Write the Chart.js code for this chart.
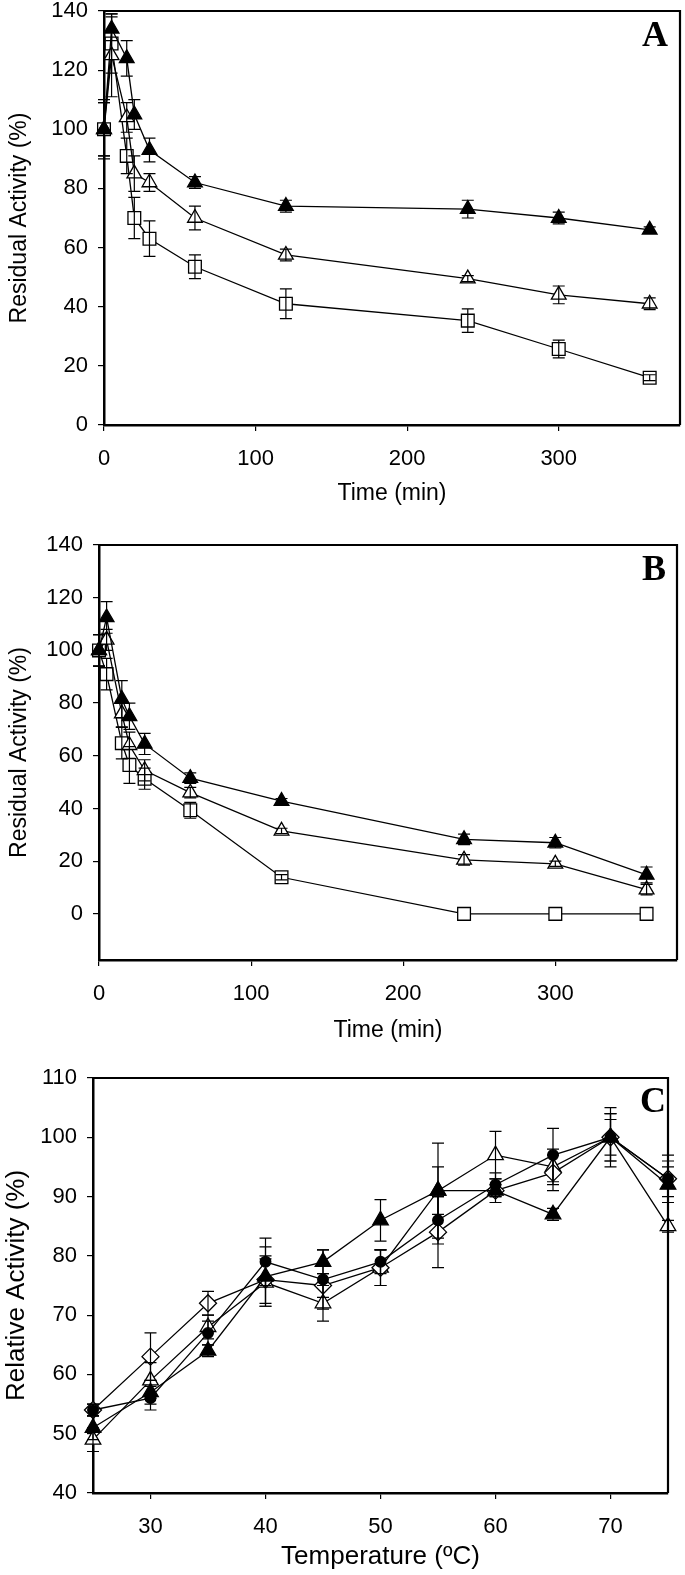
<!DOCTYPE html>
<html><head><meta charset="utf-8">
<script src="https://cdn.jsdelivr.net/npm/chart.js@4"></script>
<style>
html,body{margin:0;padding:0;background:#fff;}
#wrap{position:relative;width:685px;height:1575px;background:#fff;}
canvas{position:absolute;left:0;}
</style></head><body>
<div id="wrap">
<canvas id="cA" width="685" height="515" style="top:0px"></canvas>
<canvas id="cB" width="685" height="530" style="top:515px"></canvas>
<canvas id="cC" width="685" height="530" style="top:1045px"></canvas>
</div>
<script>
// ---------- DATA ----------
const timeMin = [0, 5, 15, 20, 30, 60, 120, 240, 300, 360];
const timeTicks = [0, 100, 200, 300];
const residualTicks = [0, 20, 40, 60, 80, 100, 120, 140];

// Panel A
const aFilledTri    = [100, 134, 124, 105, 93, 82, 74, 73, 70, 66];
const aFilledTriErr = [9, 4, 6, 5, 4, 2, 2, 3, 2, 1];
const aOpenTri      = [100, 125, 104, 85, 82, 70, 57.5, 49.5, 44, 41];
const aOpenTriErr   = [10, 14, 5, 6, 3, 4, 2, 1, 3, 2];
const aSquare       = [100, 129, 91, 70, 63, 53.5, 41, 35.3, 25.7, 16];
const aSquareErr    = [9, 10, 6, 7, 6, 4, 5, 4, 3, 1];

// Panel B
const bFilledTri    = [100, 112.5, 81.5, 75, 64.5, 51.5, 42.8, 28.3, 27, 14.8];
const bFilledTriErr = [6, 6, 7, 5, 4, 2, 1, 2, 2, 3];
const bOpenTri      = [100, 104, 76, 64, 54.5, 46, 31.5, 20.5, 19, 9.2];
const bOpenTriErr   = [6, 4, 5, 5, 4, 2, 1, 2, 1, 2];
const bSquare       = [100, 91, 64.8, 56.5, 51.3, 39.3, 13.9, 0, 0, 0];
const bSquareErr    = [6, 6, 6, 7, 4, 3, 1, 0, 0, 0];

// Panel C
const tempC = [25, 30, 35, 40, 45, 50, 55, 60, 65, 70, 75];
const tempTicks = [30, 40, 50, 60, 70];
const relativeTicks = [40, 50, 60, 70, 80, 90, 100, 110];
const cDiamond       = [54, 63, 72, 76, 75, 78, 84, 91, 94, 100, 93];
const cDiamondErr    = [1, 4, 2, 4, 2, 3, 6, 2, 3, 5, 3];
const cCircle        = [54, 56, 67, 79, 76, 79, 86, 92, 97, 100, 93];
const cCircleErr     = [1, 2, 2, 4, 5, 2, 4, 2, 4.5, 3, 4];
const cFilledTri     = [51, 57, 64, 76.5, 79, 86, 91, 91, 87, 100, 92];
const cFilledTriErr  = [2, 2, 1, 5, 2, 3.5, 8, 1, 1, 4, 3];
const cOpenTri       = [49, 59, 68, 75.5, 72, 78, 91, 97, 95, 100, 85];
const cOpenTriErr    = [2, 3, 2, 4, 3, 3, 4, 4, 3, 4, 1];

const panelLetters = ['A', 'B', 'C'];
const titleResidual = 'Residual Activity (%)';
const titleRelative = 'Relative Activity (%)';
const titleTime = 'Time (min)';
const titleTemp = 'Temperature (ºC)';

// ---------- STYLE / HELPERS ----------
Chart.defaults.font.family = '"Liberation Sans", Arial, sans-serif';
Chart.defaults.color = '#000';

// pins the plot area to the reference position after Chart.js has laid out the boxes
const pinAreaPlugin = {
  id: 'pinArea',
  afterLayout(chart) {
    const w = chart.options.plugins.pinArea.area;
    const a = chart.chartArea;
    a.left = w.left; a.top = w.top; a.right = w.right; a.bottom = w.bottom;
    a.width = w.right - w.left; a.height = w.bottom - w.top;
    const xs = chart.scales.x, ys = chart.scales.y;
    xs.left = a.left; xs.right = a.right; xs.width = a.width;
    xs.top = a.bottom; xs.height = xs.bottom - xs.top;
    ys.top = a.top; ys.bottom = a.bottom; ys.height = a.height;
    ys.right = a.left; ys.width = ys.right - ys.left;
    (xs.configure || xs._configure).call(xs);
    (ys.configure || ys._configure).call(ys);
  }
};

const errorBarPlugin = {
  id: 'errorBars',
  afterDatasetsDraw(chart) {
    const ctx = chart.ctx;
    const xs = chart.scales.x, ys = chart.scales.y;
    const cap = chart.options.plugins.errorBars.cap;
    ctx.save();
    ctx.strokeStyle = '#000';
    ctx.lineWidth = 1.2;
    chart.data.datasets.forEach(ds => {
      if (!ds.errors) return;
      ds.data.forEach((p, i) => {
        const e = ds.errors[i];
        if (!e) return;
        const x = xs.getPixelForValue(p.x);
        const y1 = ys.getPixelForValue(p.y - e);
        const y2 = ys.getPixelForValue(p.y + e);
        ctx.beginPath();
        ctx.moveTo(x, y1); ctx.lineTo(x, y2);
        ctx.moveTo(x - cap, y1); ctx.lineTo(x + cap, y1);
        ctx.moveTo(x - cap, y2); ctx.lineTo(x + cap, y2);
        ctx.stroke();
      });
    });
    ctx.restore();
  }
};

const framePlugin = {
  id: 'frame',
  afterDraw(chart) {
    const a = chart.chartArea, ctx = chart.ctx;
    const o = chart.options.plugins.frame;
    ctx.save();
    ctx.strokeStyle = '#000';
    ctx.lineWidth = 2.2;
    ctx.beginPath();
    ctx.moveTo(a.left, a.top); ctx.lineTo(a.right, a.top); ctx.lineTo(a.right, a.bottom);
    ctx.stroke();
    ctx.fillStyle = '#000';
    ctx.font = 'bold 36px "Liberation Serif", "Times New Roman", serif';
    ctx.textAlign = 'right';
    ctx.textBaseline = 'alphabetic';
    ctx.fillText(o.letter, o.lx, o.ly);
    ctx.restore();
  }
};

function series(xs, ys, errs, style, filled, radius) {
  return {
    data: xs.map((x, i) => ({ x: x, y: ys[i] })),
    errors: errs,
    borderColor: '#000',
    borderWidth: 1.3,
    pointStyle: style,
    pointRadius: radius,
    pointHoverRadius: radius,
    pointBackgroundColor: filled ? '#000' : '#fff',
    pointBorderColor: '#000',
    pointBorderWidth: 1.3,
    tension: 0,
    fill: false,
    clip: false
  };
}

function makeChart(id, datasets, cfg) {
  return new Chart(document.getElementById(id), {
    type: 'line',
    data: { datasets: datasets },
    plugins: [pinAreaPlugin, errorBarPlugin, framePlugin],
    options: {
      responsive: false,
      animation: false,
      events: [],
      layout: { padding: { top: cfg.area.top, right: 685 - cfg.area.right, left: 0, bottom: 0 } },
      plugins: {
        legend: { display: false },
        tooltip: { enabled: false },
        pinArea: { area: cfg.area },
        errorBars: { cap: 6 },
        frame: { letter: cfg.letter, lx: cfg.lx, ly: cfg.ly }
      },
      scales: {
        x: {
          type: 'linear',
          min: cfg.xmin, max: cfg.xmax,
          afterBuildTicks: s => { s.ticks = cfg.xticks.map(v => ({ value: v })); },
          afterFit: s => { s.height = cfg.xh; s.paddingLeft = 0; s.paddingRight = 0; },
          grid: { display: true, drawOnChartArea: false, drawTicks: true, tickLength: 6, color: '#000', lineWidth: 1.2 },
          border: { display: true, color: '#000', width: 2.5 },
          ticks: { font: { size: 22 }, color: '#000', padding: 15, maxRotation: 0 },
          title: { display: true, text: cfg.xtitle, font: { size: cfg.tsize }, color: '#000', padding: { top: 0, bottom: cfg.xtpad } }
        },
        y: {
          type: 'linear',
          min: cfg.ymin, max: cfg.ymax,
          afterBuildTicks: s => { s.ticks = cfg.yticks.map(v => ({ value: v })); },
          afterFit: s => { s.width = cfg.area.left; s.paddingTop = 0; s.paddingBottom = 0; },
          grid: { display: true, drawOnChartArea: false, drawTicks: true, tickLength: 6, color: '#000', lineWidth: 1.2 },
          border: { display: true, color: '#000', width: 2.5 },
          ticks: { font: { size: 22 }, color: '#000', padding: 10 },
          title: { display: true, text: cfg.ytitle, font: { size: cfg.tsize }, color: '#000', padding: { top: cfg.ytpad, bottom: 0 } }
        }
      }
    }
  });
}

makeChart('cA', [
  series(timeMin, aFilledTri, aFilledTriErr, 'triangle', true, 8.5),
  series(timeMin, aOpenTri, aOpenTriErr, 'triangle', false, 8.5),
  series(timeMin, aSquare, aSquareErr, 'rect', false, 9)
], { area: { left: 104, top: 11, right: 680, bottom: 425 }, xh: 90,
     xmin: 0, xmax: 380, ymin: 0, ymax: 140,
     xticks: timeTicks, yticks: residualTicks, xtitle: titleTime, ytitle: titleResidual,
     tsize: 23, xtpad: 8, ytpad: 6, letter: panelLetters[0], lx: 668, ly: 46 });

makeChart('cB', [
  series(timeMin, bFilledTri, bFilledTriErr, 'triangle', true, 8.5),
  series(timeMin, bOpenTri, bOpenTriErr, 'triangle', false, 8.5),
  series(timeMin, bSquare, bSquareErr, 'rect', false, 9)
], { area: { left: 99, top: 30, right: 677, bottom: 445 }, xh: 85,
     xmin: 0, xmax: 380, ymin: -17.5, ymax: 140,
     xticks: timeTicks, yticks: residualTicks, xtitle: titleTime, ytitle: titleResidual,
     tsize: 23, xtpad: 1, ytpad: 6, letter: panelLetters[1], lx: 666, ly: 65 });

makeChart('cC', [
  series(tempC, cFilledTri, cFilledTriErr, 'triangle', true, 9),
  series(tempC, cCircle, cCircleErr, 'circle', true, 5.3),
  series(tempC, cDiamond, cDiamondErr, 'rectRot', false, 8.5),
  series(tempC, cOpenTri, cOpenTriErr, 'triangle', false, 9)
], { area: { left: 93, top: 33, right: 668, bottom: 448 }, xh: 82,
     xmin: 25, xmax: 75, ymin: 40, ymax: 110,
     xticks: tempTicks, yticks: relativeTicks, xtitle: titleTemp, ytitle: titleRelative,
     tsize: 26, xtpad: 3, ytpad: 1, letter: panelLetters[2], lx: 666, ly: 67 });
</script>
</body></html>
